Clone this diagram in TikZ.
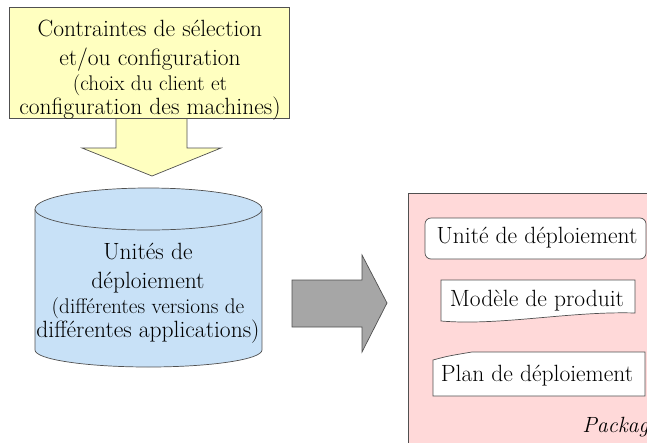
\documentclass[tikz,border=0pt]{standalone}
\usepackage{tikz}
\usetikzlibrary{positioning}
\definecolor{colorC}{HTML}{FFFFC0}
\definecolor{colorU}{HTML}{C8E1F7}
\definecolor{colorP}{HTML}{FFD9D9}
\definecolor{colorF}{HTML}{A6A6A6}
\definecolor{colorB}{HTML}{505050}
\newcommand{\smalltext}{\fontsize{21.2}{25}\selectfont}

\begin{document}
\begin{tikzpicture}[x=1pt, y=-1pt, line width=0.7pt,
    bigtext/.style={font=\fontsize{23.5}{29}\selectfont, inner sep=0pt},
    boxtext/.style={font=\fontsize{23.5}{29}\selectfont, inner sep=0pt, anchor=center}]
        \useasboundingbox (0,0) rectangle (647,442);
        \clip (0,0) rectangle (647,442);

        % contraintes
        \filldraw[draw=colorB, fill=colorC] (116,110) -- (116,148) -- (82,148) -- (152,176) -- (221,148) -- (187,148) -- (187,110) -- cycle;
        \filldraw[draw=colorB, fill=colorC] (9,7) rectangle (289,118);
        \node[bigtext, align=center] (contraintes) at (150,70) {Contraintes de sélection\\et/ou configuration\\[-4pt]
            \smalltext (choix du client et\\[-5pt]configuration des machines)};

        % unites de deploiement
        \fill[colorU] (35,209) rectangle (262,350);
        \fill[colorU] (148.5,350) ellipse[x radius=113.5, y radius=17];
        \draw[colorB] (35,209) -- (35,350) arc[start angle=180, end angle=0, x radius=113.5, y radius=17] -- (262,209);
        \filldraw[draw=colorB, fill=colorU] (148.5,209) ellipse[x radius=113.5, y radius=21];
        \node[bigtext, align=center] (unites) at (148,293) {Unités de\\déploiement\\[-4pt]
            \smalltext (différentes versions de\\[-5pt]différentes applications)};

        % transformation
        \filldraw[draw=colorB, fill=colorF] (292,280) -- (362,280) -- (362,255) -- (387,303) -- (362,352) -- (362,327) -- (292,327) -- cycle;

        % package
        \filldraw[draw=colorB, fill=colorP] (408,193) rectangle (680,470);
        \filldraw[draw=colorB, fill=white, rounded corners=6pt] (425,218) rectangle (646,259);
        \filldraw[draw=colorB, fill=white] (441,280) -- (635,280) -- (635,313) .. controls (570,311) and (500,326) .. (441,321) -- cycle;
        \filldraw[draw=colorB, fill=white] (433,396) -- (433,360) .. controls (448,356) .. (472,352) -- (645,352) -- (645,396) -- cycle;
        \node[boxtext] (unite) at (537,238) {Unité de déploiement};
        \node[boxtext] (modele) at (537,301) {Modèle de produit};
        \node[boxtext] (plan) at (537,376) {Plan de déploiement};
        \node[bigtext, anchor=west, font=\fontsize{22}{26}\selectfont\itshape] (package) at (582,427) {Package};
\end{tikzpicture}
\end{document}
